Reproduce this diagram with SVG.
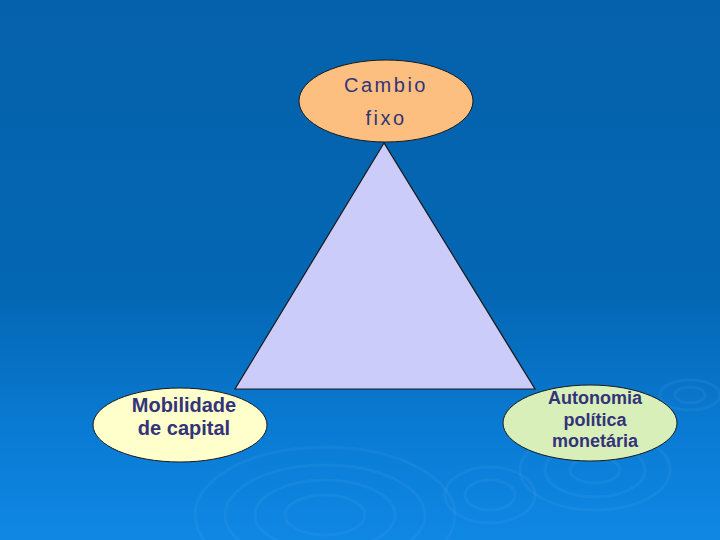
<svg xmlns="http://www.w3.org/2000/svg" width="720" height="540" viewBox="0 0 720 540">
<defs>
<linearGradient id="bg" x1="0" y1="0" x2="0" y2="1">
<stop offset="0" stop-color="#0561aa"/>
<stop offset="0.55" stop-color="#0467b4"/>
<stop offset="0.8" stop-color="#0a7bd4"/>
<stop offset="1" stop-color="#0f88e4"/>
</linearGradient>
<style>
.node ellipse{stroke:#1a1a1a;stroke-width:1}
.t{font-family:"Liberation Sans",Arial,sans-serif;fill:#33337a;text-anchor:middle}
.b{font-weight:bold}
.r{fill:none;stroke:#5fb0f0;stroke-opacity:0.12;stroke-width:3}
</style>
</defs>
<rect width="720" height="540" fill="url(#bg)"/>
<g id="ripples">
<ellipse class="r" cx="325" cy="515" rx="100" ry="50"/>
<ellipse class="r" cx="325" cy="515" rx="70" ry="35"/>
<ellipse class="r" cx="325" cy="515" rx="40" ry="20"/>
<ellipse class="r" cx="325" cy="515" rx="130" ry="68"/>
<ellipse class="r" cx="490" cy="495" rx="45" ry="28"/>
<ellipse class="r" cx="490" cy="495" rx="25" ry="15"/>
<ellipse class="r" cx="595" cy="470" rx="75" ry="40"/>
<ellipse class="r" cx="595" cy="470" rx="50" ry="27"/>
<ellipse class="r" cx="595" cy="470" rx="25" ry="13"/>
<ellipse class="r" cx="690" cy="395" rx="30" ry="15"/>
<ellipse class="r" cx="690" cy="395" rx="15" ry="8"/>
</g>
<g id="connectors">
<polygon points="384,143 235,389 535,389" fill="#ccccfb" stroke="#1a1a1a" stroke-width="1.2"/>
</g>
<g id="node-cambio" class="node">
<ellipse cx="386" cy="101" rx="87" ry="41" fill="#fdbf80"/>
<text class="t" x="386" y="92" font-size="20" letter-spacing="2.5">Cambio</text>
<text class="t" x="386" y="125" font-size="20" letter-spacing="2.5">fixo</text>
</g>
<g id="node-mobilidade" class="node">
<ellipse cx="180" cy="425" rx="87" ry="37" fill="#ffffcc"/>
<text class="t b" x="184" y="412" font-size="20">Mobilidade</text>
<text class="t b" x="184" y="435" font-size="20">de capital</text>
</g>
<g id="node-autonomia" class="node">
<ellipse cx="590" cy="423" rx="87" ry="38" fill="#d9efb9"/>
<text class="t b" x="595" y="404" font-size="18">Autonomia</text>
<text class="t b" x="595" y="426" font-size="18">política</text>
<text class="t b" x="595" y="447" font-size="18">monetária</text>
</g>
</svg>
